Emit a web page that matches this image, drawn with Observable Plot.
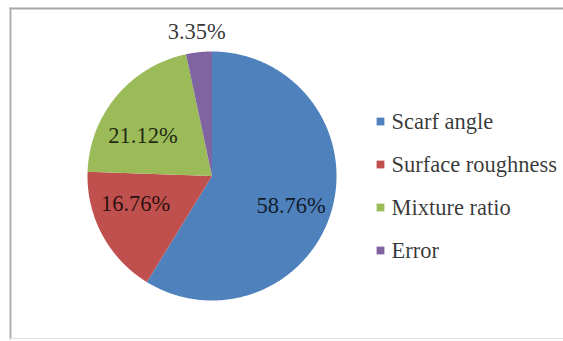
<!DOCTYPE html>
<html><head><meta charset="utf-8">
<script src="https://cdn.jsdelivr.net/npm/d3@7"></script>
<script src="https://cdn.jsdelivr.net/npm/@observablehq/plot@0.6"></script>
<style>html,body{margin:0;padding:0;background:#fff;} #chart svg{display:block} #chart svg text{font-family:'Liberation Serif','Times New Roman',serif}</style>
</head><body><div id="chart"></div>
<script>
// ---- data ----
const categories = ["Scarf angle", "Surface roughness", "Mixture ratio", "Error"];
const values = [58.76, 16.76, 21.12, 3.35];
const labels = ["58.76%", "16.76%", "21.12%", "3.35%"];
const colors = ["#4F81BD", "#C0504D", "#9BBB59", "#8064A2"];

// ---- layout (pixels) ----
const W = 563, H = 341;
const CX = 211.5, CY = 175.5, R = 124.5;
const legendSquareX = 380, legendTextX = 391, legendTop = 121, legendStep = 43;
const labelNudge = [[0, 7], [-4, -11], [-6, 13], [0, 1]]; // px, best-fit tweaks
const FONT = "'Liberation Serif', 'Times New Roman', serif";
const FS = 22.5;

const total = d3.sum(values);
const slicePts = [];
const labelPts = [];
let cum = 0;
values.forEach((v, i) => {
  const a0 = cum / total * 2 * Math.PI;
  cum += v;
  const a1 = cum / total * 2 * Math.PI;
  const cat = categories[i];
  slicePts.push({category: cat, x: 0, y: 0});
  const n = Math.max(2, Math.ceil((a1 - a0) / (Math.PI / 360)));
  for (let k = 0; k <= n; k++) {
    const a = a0 + (a1 - a0) * k / n;
    slicePts.push({category: cat, x: Math.sin(a), y: Math.cos(a)});
  }
  const mid = (a0 + a1) / 2;
  const f = v / total < 0.05 ? 1.17 : 0.66;
  labelPts.push({
    label: labels[i],
    x: f * Math.sin(mid) + labelNudge[i][0] / R,
    y: f * Math.cos(mid) - labelNudge[i][1] / R
  });
});

const legendPts = categories.map((c, i) => ({
  category: c,
  xs: (legendSquareX - CX) / R,
  xt: (legendTextX - CX) / R,
  y: (CY - (legendTop + legendStep * i)) / R
}));

const chart = Plot.plot({
  width: W, height: H,
  marginLeft: 10, marginTop: 8, marginRight: -4, marginBottom: 3,
  style: {fontFamily: FONT, background: "#fff"},
  x: {domain: [-1, 1], range: [CX - R, CX + R], axis: null},
  y: {domain: [-1, 1], range: [CY + R, CY - R], axis: null},
  color: {domain: categories, range: colors},
  marks: [
    Plot.frame({anchor: "left", stroke: "#a8a8a8", strokeWidth: 1.8}),
    Plot.frame({anchor: "top", stroke: "#a8a8a8", strokeWidth: 1.8}),
    Plot.frame({anchor: "bottom", stroke: "#e2e2e2", strokeWidth: 1}),
    Plot.line(slicePts, {x: "x", y: "y", z: "category", fill: "category", stroke: "none", curve: "linear-closed"}),
    Plot.text(labelPts, {x: "x", y: "y", text: "label", fontSize: FS, fontFamily: FONT, fill: "#000", fillOpacity: 0.8}),
    Plot.dot(legendPts, {x: "xs", y: "y", fill: "category", symbol: "square", r: 4.4, stroke: "none"}),
    Plot.text(legendPts, {x: "xt", y: "y", text: "category", textAnchor: "start", fontSize: FS, fontFamily: FONT, fill: "#000", fillOpacity: 0.78})
  ]
});
document.getElementById("chart").appendChild(chart);
</script></body></html>
